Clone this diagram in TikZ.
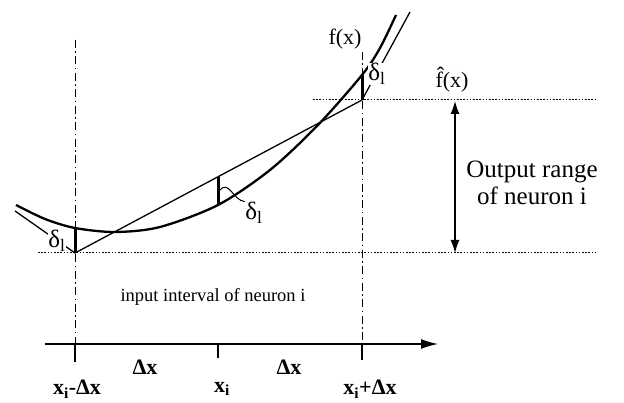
\documentclass[tikz,border=0pt]{standalone}
\usepackage{fontspec}
\setmainfont{Liberation Serif}
\usetikzlibrary{arrows.meta}

\begin{document}
\begin{tikzpicture}[x=1pt,y=-1pt,
  lbl/.style={font=\fontsize{22}{24}\selectfont, inner sep=1pt},
  axlbl/.style={font=\fontsize{22}{24}\selectfont\bfseries, inner sep=1pt},
  dlbl/.style={font=\fontsize{25}{27}\selectfont, inner sep=0.5pt, fill=white},
  guide/.style={line width=0.9pt, dash pattern=on 8pt off 3.5pt on 1.5pt off 3.5pt},
  level/.style={line width=1pt, dash pattern=on 1.6pt off 1.6pt},
  gap/.style={line width=3pt},
  tick/.style={line width=1.1pt}]
\useasboundingbox (0,0) rectangle (624,403);

% interval ends of the linear piece
\coordinate (lo) at (75,253);
\coordinate (hi) at (362,100);
\coordinate (lm) at (218,177);
% curve at the three checkpoints
\coordinate (cl) at (75,228);
\coordinate (cm) at (218,205);
\coordinate (ch) at (362,75);

% vertical guides
\draw[guide] (75,40) -- (75,344);
\draw[guide] (362,52) -- (362,344);

% levels
\draw[level] (38,253) -- (597,253);
\draw[level] (313,100) -- (597,100);

% f(x)
\draw[line width=2.3pt] plot[smooth, tension=0.5] coordinates
  {(16,205) (45,219) (cl) (115,232) (160,227) (cm) (270,170) (318,125) (ch) (380,48) (396,15)};
% linear pieces
\draw[line width=1.3pt] (15,211) -- (lo) -- (hi) -- (410,12);

% deviations
\draw[gap] (cl) -- (lo);
\draw[gap] (lm) -- (cm);
\draw[gap] (ch) -- (hi);
\node[dlbl] (d1) at (57,241) {δ\textsubscript{l}};
\node[dlbl] (d2) at (254,213) {δ\textsubscript{l}};
\node[dlbl] (d3) at (377,74) {δ\textsubscript{l}};
\draw[line width=1pt] (220,190) .. controls (229,180) and (233,200) .. (d2.north west);

\node[lbl] (fx) at (345,39) {f(x)};
\node[lbl] (fh) at (452,80) {\^f(x)};

% output range
\coordinate (rt) at (455,101);
\coordinate (rb) at (455,253);
\draw[{Latex[length=13pt,width=9pt]}-{Latex[length=13pt,width=9pt]}, line width=1.3pt] (rt) -- (rb);
\node[align=center, font=\fontsize{25}{27}\selectfont, inner sep=0pt] (rng) at (532,183) {Output range\\of neuron i};

\node[font=\fontsize{18.5}{20}\selectfont] (inp) at (213,297) {input interval of neuron i};

% x axis
\coordinate (ax0) at (45,344);
\coordinate (ax1) at (438,344);
\draw[-{Latex[length=17pt,width=10pt]}, line width=1.4pt] (ax0) -- (ax1);
\draw[tick] (75,344) -- (75,362);
\draw[tick] (218,344) -- (218,358);
\draw[tick] (362,344) -- (362,360);
\node[axlbl] (dx1) at (145,367) {Δx};
\node[axlbl] (dx2) at (289,367) {Δx};
\node[axlbl] (xa) at (77,389) {x\textsubscript{i}-Δx};
\node[axlbl] (xb) at (222,389) {x\textsubscript{i}};
\node[axlbl] (xc) at (370,389) {x\textsubscript{i}+Δx};
\end{tikzpicture}
\end{document}
